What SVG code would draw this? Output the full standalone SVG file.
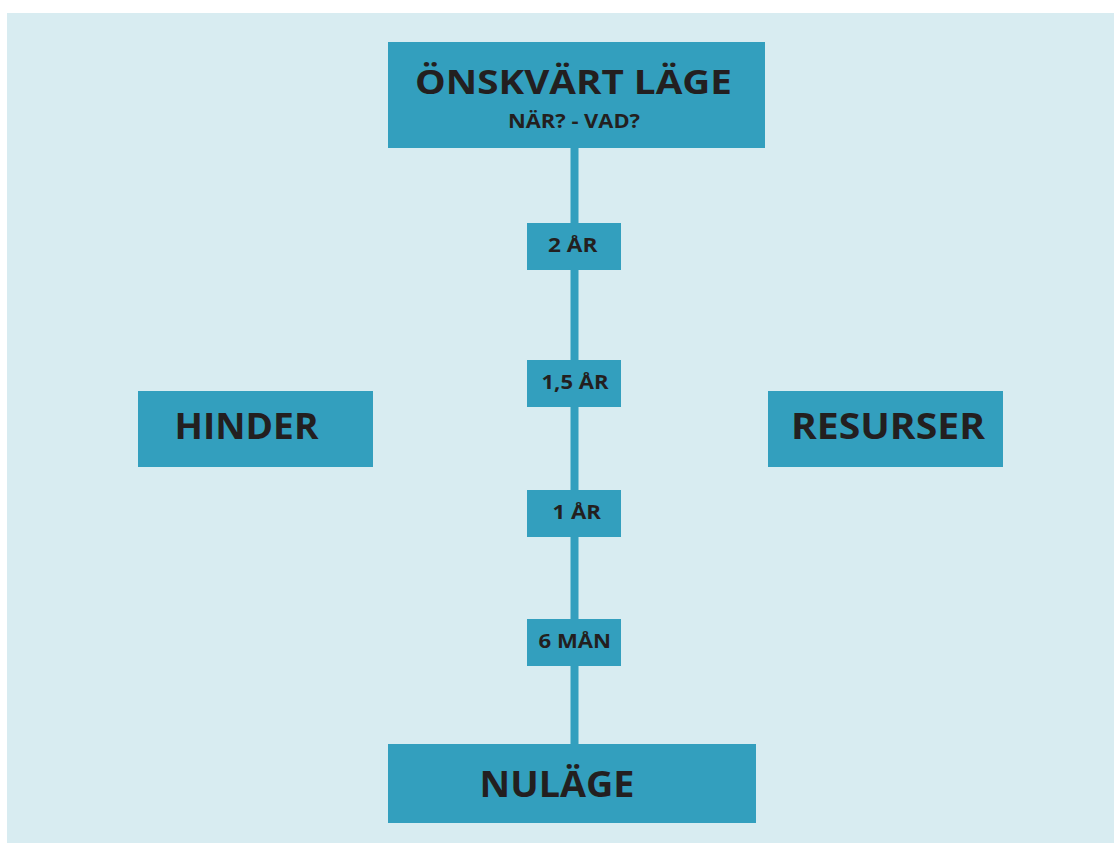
<svg xmlns="http://www.w3.org/2000/svg" width="1114" height="843" viewBox="0 0 1114 843">
<style>
.box{fill:#339fbe}
.t{font-family:"Open Sans","Noto Sans","Liberation Sans",sans-serif;font-weight:700;fill:#231f20}
.big{font-size:36px}
.sm{font-size:20px}
</style>
<rect x="0" y="0" width="1114" height="843" fill="#ffffff"/>
<rect x="7" y="13" width="1107" height="830" fill="#d8ecf1"/>
<g id="connectors">
<line x1="574.5" y1="147" x2="574.5" y2="745" stroke="#339fbe" stroke-width="8"/>
</g>
<g id="onskvart">
<rect class="box" x="388" y="42" width="377" height="106"/>
<text class="t" x="415" y="94" font-size="34.5" textLength="317" lengthAdjust="spacingAndGlyphs">ÖNSKVÄRT LÄGE</text>
<text class="t" x="508" y="128" font-size="20" textLength="132" lengthAdjust="spacingAndGlyphs">NÄR? - VAD?</text>
</g>
<g id="ar2">
<rect class="box" x="527" y="223" width="94" height="47"/>
<text class="t sm" x="548" y="252" textLength="49.5" lengthAdjust="spacingAndGlyphs">2 ÅR</text>
</g>
<g id="ar15">
<rect class="box" x="527" y="360" width="94" height="47"/>
<text class="t sm" x="541.5" y="389" textLength="67" lengthAdjust="spacingAndGlyphs">1,5 ÅR</text>
</g>
<g id="ar1">
<rect class="box" x="527" y="490" width="94" height="47"/>
<text class="t sm" x="552.5" y="519" textLength="48.5" lengthAdjust="spacingAndGlyphs">1 ÅR</text>
</g>
<g id="man6">
<rect class="box" x="527" y="619" width="94" height="47"/>
<text class="t sm" x="538.5" y="647.5" textLength="72.5" lengthAdjust="spacingAndGlyphs">6 MÅN</text>
</g>
<g id="hinder">
<rect class="box" x="138" y="391" width="235" height="76"/>
<text class="t big" x="174.5" y="439" textLength="144" lengthAdjust="spacingAndGlyphs">HINDER</text>
</g>
<g id="resurser">
<rect class="box" x="768" y="391" width="235" height="76"/>
<text class="t big" x="791" y="439" textLength="194" lengthAdjust="spacingAndGlyphs">RESURSER</text>
</g>
<g id="nulage">
<rect class="box" x="388" y="744" width="368" height="79"/>
<text class="t big" x="479.5" y="797" textLength="155" lengthAdjust="spacingAndGlyphs">NULÄGE</text>
</g>
</svg>
